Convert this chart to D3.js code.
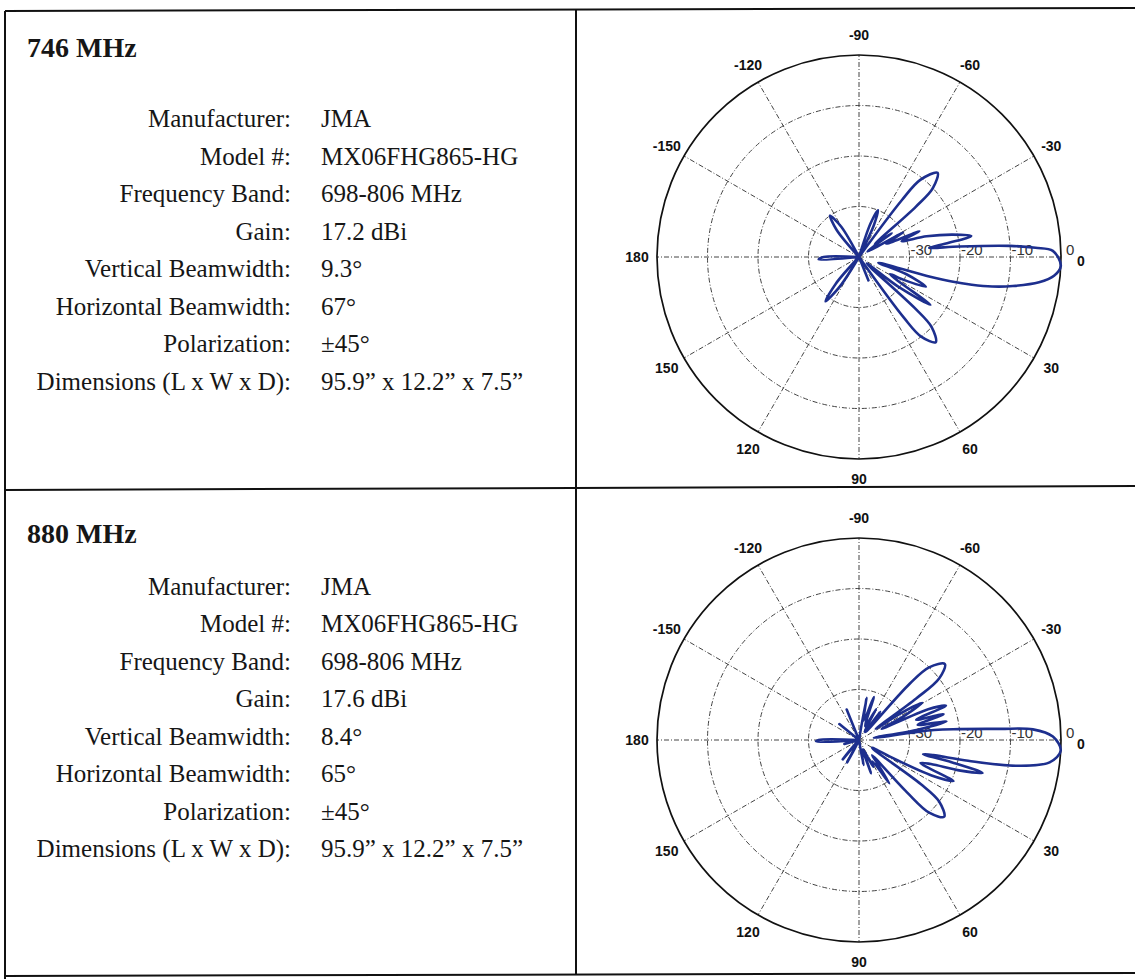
<!DOCTYPE html>
<html>
<head>
<meta charset="utf-8">
<script src="https://cdn.jsdelivr.net/npm/d3@7"></script>
<style>
  body { margin: 0; background: #fff; }
  svg { display: block; }
</style>
</head>
<body>
<svg id="sheet" width="1135" height="979"></svg>
<script>
// ---- data ----
var bandTitles = ['746 MHz', '880 MHz'];

var specLabels = ['Manufacturer:', 'Model #:', 'Frequency Band:', 'Gain:',
    'Vertical Beamwidth:', 'Horizontal Beamwidth:', 'Polarization:', 'Dimensions (L x W x D):'];

var specValues746 = ['JMA', 'MX06FHG865-HG', '698-806 MHz', '17.2 dBi',
    '9.3\u00b0', '67\u00b0', '\u00b145\u00b0', '95.9\u201d x 12.2\u201d x 7.5\u201d'];

var specValues880 = ['JMA', 'MX06FHG865-HG', '698-806 MHz', '17.6 dBi',
    '8.4\u00b0', '65\u00b0', '\u00b145\u00b0', '95.9\u201d x 12.2\u201d x 7.5\u201d'];

// polar grid
var ringLevels = [-30, -20, -10, 0];
var angleTicks = [-150, -120, -90, -60, -30, 0, 30, 60, 90, 120, 150, 180];

// vertical pattern, [angle deg, level dB]; -40 dB is the plot centre
var pattern746 = [
    [-180, -33], [-176, -40], [-134, -40], [-129.5, -33], [-125, -30], [-120.5, -33], [-116, -40],
    [-75, -40], [-71, -33], [-68, -30], [-65, -33], [-61, -40],
    [-55.5, -40], [-53, -26], [-51.5, -20.5], [-47, -17.2], [-43, -20], [-41.5, -25], [-39, -36],
    [-36, -32], [-33, -38], [-29, -30], [-26, -34], [-23, -27], [-20.5, -31], [-17, -26],
    [-13.5, -21], [-10.6, -17.4], [-9, -22], [-7.5, -26],
    [-6, -20], [-4.2, -10], [-3, -5], [-1.8, -1.6], [2.5, 0], [5.5, -1.2], [8, -4],
    [10.7, -9], [12.5, -13], [13.8, -17], [14.8, -21], [15.5, -26], [16.5, -36],
    [20, -30], [24, -25.5], [27, -30], [29, -33], [33.8, -23], [37, -30], [40, -38],
    [42.5, -25], [44, -20], [48, -17.3], [52, -20], [53.5, -25], [56, -40],
    [66, -40], [68, -35], [70, -40],
    [120, -40], [123, -33], [127, -29], [131, -33], [134, -40],
    [173, -40], [176.5, -32]
];

var pattern880 = [
    [-180, -32], [-176, -40], [-146, -40], [-141, -35], [-136, -40],
    [-118, -40], [-112, -33.5], [-106, -40],
    [-86, -40], [-80, -31.5], [-76, -36], [-71, -31], [-66, -37], [-61, -33], [-57, -38],
    [-53, -33], [-50.5, -38],
    [-48, -25], [-46, -20], [-41.5, -17.3], [-37.5, -20], [-36, -26], [-34, -36],
    [-32.5, -30], [-30.5, -25.5], [-28, -30], [-26, -35], [-24, -25], [-21.5, -21.5],
    [-19.5, -28], [-17, -22.5], [-14.5, -28], [-12, -22.3], [-10, -28], [-8.5, -37],
    [-7.6, -25], [-6.2, -20], [-4.5, -12], [-3.5, -5.5], [-1, -1.6], [3, 0], [6.7, -2],
    [9.3, -8.5], [10.8, -18], [11.5, -25], [12.5, -27],
    [13.5, -21], [14.9, -14.7], [16.8, -19], [18.5, -25],
    [20.5, -27], [23.5, -19.6], [26, -24], [28, -32], [31, -37],
    [35.5, -25], [37.5, -20], [42, -17.3], [46, -20], [47.5, -26], [49.5, -36],
    [52, -34], [55, -29.5], [58, -35], [62, -34], [66, -38], [70, -33], [74, -38],
    [80, -35], [86, -40],
    [110, -40], [118, -35], [124, -40], [130, -35], [136, -40],
    [160, -40], [165, -37], [170, -40], [174, -39], [178, -31.5]
];

var PATTERN_BLUE = '#1d2f8e';
var GRID_GREY = '#444';

var svg = d3.select('#sheet');

// ---- table frame ----
var frame = svg.append('g')
    .attr('stroke', '#111')
    .attr('stroke-width', 2)
    .attr('fill', 'none');
frame.append('line').attr('x1', 5).attr('y1', 11).attr('x2', 1135).attr('y2', 8);
frame.append('line').attr('x1', 5).attr('y1', 490).attr('x2', 1135).attr('y2', 486);
frame.append('line').attr('x1', 5).attr('y1', 976).attr('x2', 1135).attr('y2', 973);
frame.append('line').attr('x1', 5).attr('y1', 11).attr('x2', 5).attr('y2', 979);
frame.append('line').attr('x1', 576).attr('y1', 10).attr('x2', 576).attr('y2', 975);

/**
 * Left half of a row: band title plus the spec list.
 * titleY / firstY / lastY are text baselines.
 */
function drawSpecs(titleY, firstY, lastY, title, values) {
    var g = svg.append('g')
        .attr('font-family', '"Liberation Serif", "Times New Roman", serif')
        .attr('fill', '#161616');

    g.append('text')
        .attr('x', 27)
        .attr('y', titleY)
        .attr('font-size', 28)
        .attr('font-weight', 'bold')
        .text(title);

    var rowY = d3.scalePoint()
        .domain(d3.range(specLabels.length))
        .range([firstY, lastY]);

    g.selectAll('text.label')
        .data(specLabels)
        .enter().append('text')
        .attr('class', 'label')
        .attr('x', 291)
        .attr('y', function (d, i) { return rowY(i); })
        .attr('text-anchor', 'end')
        .attr('font-size', 25)
        .text(function (d) { return d; });

    g.selectAll('text.value')
        .data(values)
        .enter().append('text')
        .attr('class', 'value')
        .attr('x', 321)
        .attr('y', function (d, i) { return rowY(i); })
        .attr('font-size', 25)
        .text(function (d) { return d; });
}

/**
 * Right half of a row: the polar plot of one pattern.
 */
function drawPolar(cx, cy, pattern) {
    var R = 202;
    var r = d3.scaleLinear().domain([-40, 0]).range([0, R]).clamp(true);
    var rad = function (deg) { return deg * Math.PI / 180; };

    var g = svg.append('g').attr('transform', 'translate(' + cx + ',' + cy + ')');

    // spokes every 30 degrees
    g.selectAll('line.spoke')
        .data(angleTicks)
        .enter().append('line')
        .attr('class', 'spoke')
        .attr('x1', 0).attr('y1', 0)
        .attr('x2', function (d) { return R * Math.cos(rad(d)); })
        .attr('y2', function (d) { return R * Math.sin(rad(d)); })
        .attr('stroke', GRID_GREY)
        .attr('stroke-width', 1)
        .attr('stroke-dasharray', '5,2,1,2');

    // inner rings
    g.selectAll('circle.ring')
        .data(ringLevels.slice(0, -1))
        .enter().append('circle')
        .attr('class', 'ring')
        .attr('r', function (d) { return r(d); })
        .attr('fill', 'none')
        .attr('stroke', GRID_GREY)
        .attr('stroke-width', 1)
        .attr('stroke-dasharray', '5,2,1,2');

    // outer circle
    g.append('circle')
        .attr('r', R)
        .attr('fill', 'none')
        .attr('stroke', '#111')
        .attr('stroke-width', 1.7);

    // ring level labels along the 0 degree spoke
    g.selectAll('text.ringlabel')
        .data(ringLevels)
        .enter().append('text')
        .attr('class', 'ringlabel')
        .attr('x', function (d) { return r(d) + (d === 0 ? 5 : 1); })
        .attr('y', -2)
        .attr('font-family', '"Liberation Sans", Arial, sans-serif')
        .attr('font-size', 15)
        .attr('fill', '#333')
        .text(function (d) { return d; });

    // angle labels
    g.selectAll('text.angle')
        .data(angleTicks)
        .enter().append('text')
        .attr('class', 'angle')
        .attr('x', function (d) { return 222 * Math.cos(rad(d)); })
        .attr('y', function (d) { return 222 * Math.sin(rad(d)) + (d === 0 ? 4 : 0); })
        .attr('text-anchor', 'middle')
        .attr('dominant-baseline', 'central')
        .attr('font-family', '"Liberation Sans", Arial, sans-serif')
        .attr('font-weight', 'bold')
        .attr('font-size', 14)
        .attr('fill', '#111')
        .text(function (d) { return d; });

    // the pattern itself
    var line = d3.lineRadial()
        .angle(function (d) { return rad(d[0] + 90); })
        .radius(function (d) { return r(d[1]); })
        .curve(d3.curveCatmullRomClosed.alpha(0.5));

    g.append('path')
        .datum(pattern)
        .attr('d', line)
        .attr('fill', 'none')
        .attr('stroke', PATTERN_BLUE)
        .attr('stroke-width', 2.6)
        .attr('stroke-linejoin', 'round');
}

drawSpecs(57, 127, 390, bandTitles[0], specValues746);
drawSpecs(543, 595, 857, bandTitles[1], specValues880);

drawPolar(859, 257, pattern746);
drawPolar(859, 740, pattern880);
</script>
</body>
</html>
